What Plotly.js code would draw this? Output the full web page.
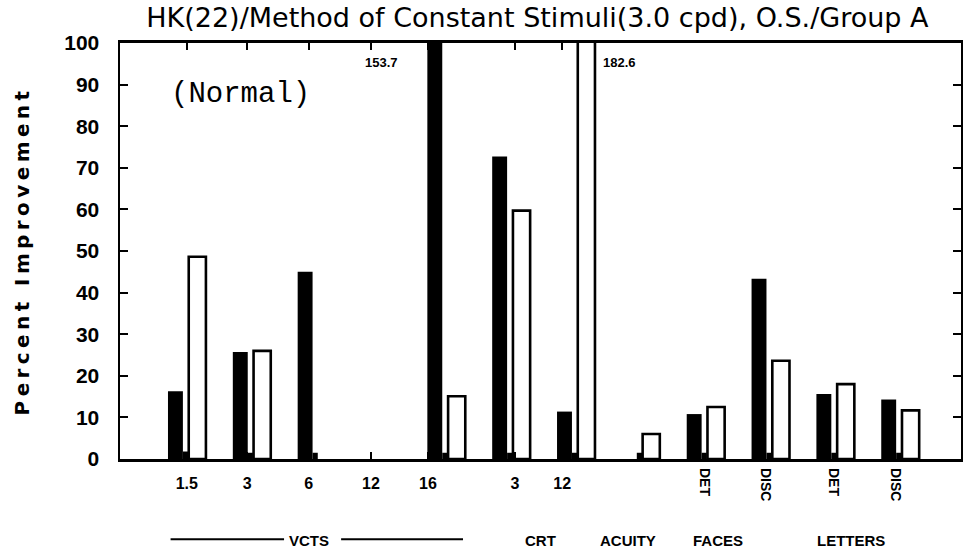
<!DOCTYPE html>
<html>
<head>
<meta charset="utf-8">
<script src="https://cdn.plot.ly/plotly-3.0.1.min.js"></script>
<style>
  html, body { margin: 0; padding: 0; background: #fff; }
  #chart { width: 963px; height: 556px; }
  .ytitle { letter-spacing: 4.4px; }
</style>
</head>
<body>
<div id="chart"></div>
<script>
// ---- data ----
const categories = ['VCTS 1.5', 'VCTS 3', 'VCTS 6', 'VCTS 12', 'VCTS 16', 'CRT 3', 'CRT 12',
                    'ACUITY', 'FACES DET', 'FACES DISC', 'LETTERS DET', 'LETTERS DISC'];
const numberLabels = ['1.5', '3', '6', '12', '16', '3', '12'];
const rotatedLabels = ['DET', 'DISC', 'DET', 'DISC'];
const groupLabels = ['VCTS', 'CRT', 'ACUITY', 'FACES', 'LETTERS'];
const blackValues = [16.3, 25.7, 45.0, null, 153.7, 72.7, 11.4, null, 10.8, 43.3, 15.6, 14.3];
const whiteValues = [48.6, 26.0, null, null, 15.1, 59.7, 182.6, 6.0, 12.5, 23.6, 18.0, 11.7];
const stubValues  = [1.8, 1.5, 1.5, null, 1.5, 1.5, 1.5, 1.5, 1.5, 1.5, 1.5, 1.5];
const yTicks = [0, 10, 20, 30, 40, 50, 60, 70, 80, 90, 100];

// ---- layout constants ----
const idx = categories.map((_, i) => i);
const numberTickPos = [0, 0.93, 1.88, 2.84, 3.72, 5.06, 5.79];
const rotatedTickPos = [7.99, 8.92, 9.97, 10.93];
const groupLabelPos = [1.88, 5.45, 6.8, 8.2, 10.25];
const xRange = [-1.03, 11.94];
const narrow = '"Liberation Sans Narrow", "Arial Narrow", "Liberation Sans", Arial, sans-serif';

const traces = [
  { type: 'bar', x: idx, y: blackValues, offset: -0.29, width: 0.23,
    marker: { color: '#000', line: { color: '#000', width: 0 } },
    xaxis: 'x', yaxis: 'y', hoverinfo: 'y', showlegend: false },
  { type: 'bar', x: idx, y: stubValues, offset: -0.06, width: 0.08,
    marker: { color: '#000', line: { width: 0 } },
    xaxis: 'x', yaxis: 'y', hoverinfo: 'skip', showlegend: false },
  { type: 'bar', x: idx, y: whiteValues, offset: 0.03, width: 0.265,
    marker: { color: '#fff', line: { color: '#000', width: 2.6 } },
    xaxis: 'x', yaxis: 'y', hoverinfo: 'y', showlegend: false },
  // invisible trace to activate the second (rotated label) axis
  { type: 'scatter', x: [0], y: [0], mode: 'markers', marker: { opacity: 0 },
    xaxis: 'x2', yaxis: 'y', hoverinfo: 'skip', showlegend: false }
];

const annotations = [
  { x: 0.83, y: 87.7, xref: 'x', yref: 'y', text: '(Normal)', showarrow: false,
    font: { family: '"Liberation Mono", "Courier New", monospace', size: 29, color: '#000' } },
  { x: 3.01, y: 95.2, xref: 'x', yref: 'y', text: blackValues[4].toFixed(1), showarrow: false,
    font: { family: narrow, size: 13, weight: 'bold', color: '#000' } },
  { x: 6.68, y: 95.2, xref: 'x', yref: 'y', text: whiteValues[6].toFixed(1), showarrow: false,
    font: { family: narrow, size: 13, weight: 'bold', color: '#000' } }
];
groupLabels.forEach((t, i) => {
  annotations.push({ x: groupLabelPos[i], y: -0.195, xref: 'x', yref: 'paper', text: t,
    showarrow: false, yanchor: 'middle',
    font: { family: narrow, size: 15, weight: 'bold', color: '#000' } });
});

const shapes = [
  { type: 'line', xref: 'x', yref: 'paper', x0: -0.25, x1: 1.5, y0: -0.193, y1: -0.193,
    line: { color: '#000', width: 2 } },
  { type: 'line', xref: 'x', yref: 'paper', x0: 2.38, x1: 4.26, y0: -0.193, y1: -0.193,
    line: { color: '#000', width: 2 } }
];

const layout = {
  width: 963, height: 556,
  margin: { l: 120, r: 2, t: 43, b: 97 },
  paper_bgcolor: '#fff', plot_bgcolor: '#fff',
  barmode: 'overlay',
  title: { text: 'HK(22)/Method of Constant Stimuli(3.0 cpd), O.S./Group A',
    x: 0.558, xref: 'container', xanchor: 'center', y: 0.969, yref: 'container', yanchor: 'middle',
    font: { family: '"DejaVu Sans", Verdana, sans-serif', size: 27, color: '#000' } },
  xaxis: {
    range: xRange, tickmode: 'array', tickvals: numberTickPos, ticktext: numberLabels,
    ticks: 'inside', ticklen: 7, tickwidth: 2, tickcolor: '#000', mirror: 'ticks',
    showline: true, linecolor: '#000', linewidth: 3, showgrid: false, zeroline: false,
    ticklabelstandoff: 8,
    tickfont: { family: narrow, size: 16, weight: 'bold', color: '#000' }
  },
  xaxis2: {
    range: xRange, overlaying: 'x', anchor: 'y', side: 'bottom',
    tickmode: 'array', tickvals: rotatedTickPos, ticktext: rotatedLabels, tickangle: 90,
    ticks: '', showline: false, showgrid: false, zeroline: false, ticklabelstandoff: 8,
    tickfont: { family: narrow, size: 14, weight: 'bold', color: '#000' }
  },
  yaxis: {
    range: [0, 100], tickmode: 'array', tickvals: yTicks,
    ticks: 'inside', ticklen: 8, tickwidth: 2, tickcolor: '#000', mirror: 'ticks',
    showline: true, linecolor: '#000', linewidth: 2.5, showgrid: false, zeroline: false,
    ticklabelstandoff: 14,
    tickfont: { family: '"Liberation Sans", Arial, sans-serif', size: 21, weight: 'bold', color: '#000' },
    title: { text: 'Percent Improvement', standoff: 30,
      font: { family: '"DejaVu Sans", Verdana, sans-serif', size: 20, weight: 'bold', color: '#000' } }
  },
  annotations: annotations,
  shapes: shapes
};

Plotly.newPlot('chart', traces, layout, { staticPlot: true, displayModeBar: false });
</script>
</body>
</html>
